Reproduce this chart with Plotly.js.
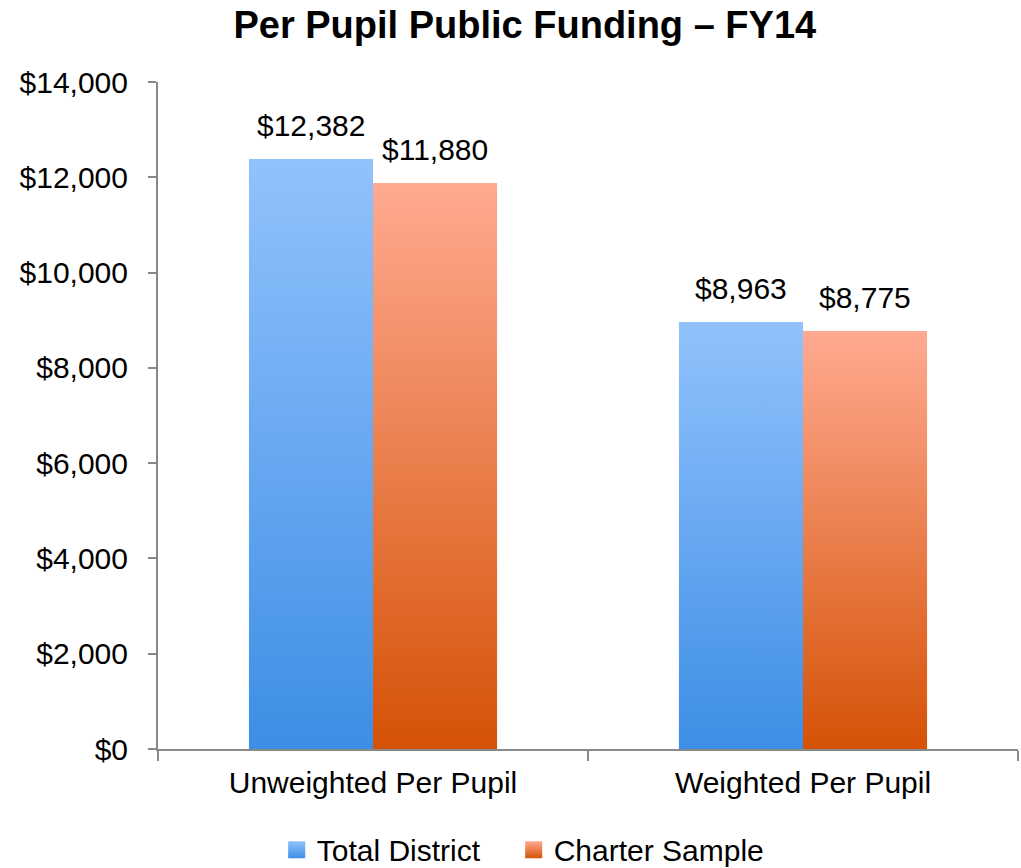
<!DOCTYPE html>
<html>
<head>
<meta charset="utf-8">
<script src="https://cdn.plot.ly/plotly-3.0.1.min.js"></script>
<style>
html,body{margin:0;padding:0;background:#fff;}
#chart{width:1021px;height:868px;}
</style>
</head>
<body>
<div id="chart"></div>
<script>
// ---- Data ----
const categories = ["Unweighted Per Pupil", "Weighted Per Pupil"];
const seriesNames = ["Total District", "Charter Sample"];
const totalDistrict = [12382, 8963];
const charterSample = [11880, 8775];
const yTickVals = [0, 2000, 4000, 6000, 8000, 10000, 12000, 14000];

// ---- Styles ----
const gradTop = ["#92C2FC", "#FFAA91"];
const gradBottom = ["#3D8EE6", "#D55206"];
const midColor = ["#66A8F2", "#EE8255"];
const FONT = "Liberation Sans, Arial, Helvetica, sans-serif";
const FS = 30;

const seriesValues = [totalDistrict, charterSample];
const fmt = v => "$" + v.toLocaleString("en-US");

const data = seriesValues.map((vals, i) => ({
  type: "bar",
  name: seriesNames[i],
  x: categories,
  y: vals,
  marker: {color: midColor[i], line: {width: 0}},
  hoverinfo: "none"
}));

const annotations = [];
seriesValues.forEach((vals, i) => {
  vals.forEach((v, j) => {
    annotations.push({
      x: categories[j], y: v, xref: "x", yref: "y",
      text: fmt(v), showarrow: false,
      xanchor: "center", yanchor: "bottom",
      xshift: i === 0 ? -62 : 62, yshift: 15,
      font: {family: FONT, size: FS, color: "#000"}
    });
  });
});

const layout = {
  width: 1021, height: 868,
  paper_bgcolor: "#fff", plot_bgcolor: "#fff",
  margin: {l: 158, r: 3, t: 82, b: 119},
  font: {family: FONT, color: "#000"},
  title: {
    text: "<b>Per Pupil Public Funding – FY14</b>",
    font: {family: FONT, size: 38, color: "#000"},
    xref: "container", x: 0.514, xanchor: "center",
    yref: "container", y: 0.971, yanchor: "middle"
  },
  barmode: "group", bargap: 0.423, bargroupgap: 0,
  xaxis: {
    type: "category",
    showline: true, linecolor: "#898989", linewidth: 2,
    ticks: "outside", tickson: "boundaries", ticklen: 10, tickwidth: 2, tickcolor: "#898989",
    ticklabelstandoff: 6,
    tickfont: {family: FONT, size: FS, color: "#000"},
    showgrid: false, zeroline: false
  },
  yaxis: {
    range: [0, 14000],
    tickmode: "array",
    tickvals: yTickVals,
    ticktext: yTickVals.map(fmt),
    showline: true, linecolor: "#898989", linewidth: 2,
    ticks: "outside", ticklen: 8, tickwidth: 2, tickcolor: "#898989",
    ticklabelstandoff: 14,
    tickfont: {family: FONT, size: FS, color: "#000"},
    showgrid: false, zeroline: false
  },
  showlegend: true,
  legend: {
    orientation: "h",
    xref: "container", x: 0.271, xanchor: "left",
    yref: "container", y: 0.021, yanchor: "middle",
    font: {family: FONT, size: FS, color: "#000"},
    itemwidth: 30, tracegroupgap: 0,
    entrywidth: 215
  },
  annotations: annotations
};

const gd = document.getElementById("chart");
Plotly.newPlot(gd, data, layout, {staticPlot: true, displayModeBar: false}).then(applyGradients);

function applyGradients() {
  const ns = "http://www.w3.org/2000/svg";
  const svg = gd.querySelector("svg.main-svg");
  let defs = svg.querySelector("defs");
  if (!defs) { defs = document.createElementNS(ns, "defs"); svg.insertBefore(defs, svg.firstChild); }
  gradTop.forEach((top, i) => {
    const g = document.createElementNS(ns, "linearGradient");
    g.setAttribute("id", "bargrad" + i);
    g.setAttribute("x1", "0"); g.setAttribute("y1", "0");
    g.setAttribute("x2", "0"); g.setAttribute("y2", "1");
    [[0, top], [1, gradBottom[i]]].forEach(([o, c]) => {
      const s = document.createElementNS(ns, "stop");
      s.setAttribute("offset", o);
      s.setAttribute("stop-color", c);
      g.appendChild(s);
    });
    defs.appendChild(g);
  });
  gd.querySelectorAll(".barlayer .trace").forEach((tr, i) => {
    tr.querySelectorAll("path").forEach(p => { p.style.fill = "url(#bargrad" + i + ")"; });
  });
  gd.querySelectorAll(".legend .traces").forEach((tr, i) => {
    tr.querySelectorAll(".legendpoints path").forEach(p => {
      p.style.fill = "url(#bargrad" + i + ")";
      const t = p.getAttribute("transform") || "";
      p.setAttribute("transform", t + " scale(1.42)");
    });
    if (i > 0) {
      // tighten the gap between legend entries
      const t = tr.getAttribute("transform") || "";
      const m = t.match(/translate\(\s*([-\d.]+)[ ,]+([-\d.]+)\s*\)/);
      if (m) tr.setAttribute("transform", "translate(" + (parseFloat(m[1]) - 23 * i) + "," + m[2] + ")");
    }
  });
}
</script>
</body>
</html>
